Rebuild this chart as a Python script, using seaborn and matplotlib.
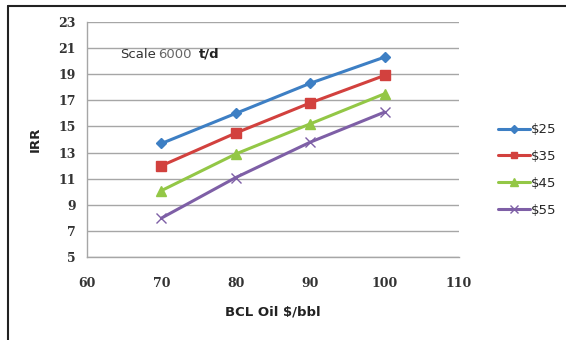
import numpy as np
import pandas as pd
import matplotlib
matplotlib.use("Agg")
import matplotlib.pyplot as plt
from matplotlib.lines import Line2D
import seaborn as sns

oil_price = [70, 80, 90, 100]
irr_25 = [13.7, 16.0, 18.3, 20.3]
irr_35 = [12.0, 14.5, 16.8, 18.9]
irr_45 = [10.1, 12.9, 15.2, 17.5]
irr_55 = [8.0, 11.1, 13.8, 16.1]
series_names = ["$25", "$35", "$45", "$55"]

rows = []
for name, vals in zip(series_names, [irr_25, irr_35, irr_45, irr_55]):
    for x, y in zip(oil_price, vals):
        rows.append({"oil": x, "irr": y, "series": name})
df = pd.DataFrame(rows)

sns.set_style("white")
plt.rcParams["font.family"] = ["DejaVu Sans"]

colors = {"$25": "#3D7FC4", "$35": "#D2413E", "$45": "#93C746", "$55": "#7E5FA6"}
markers = {"$25": "D", "$35": "s", "$45": "^", "$55": "x"}
msizes = {"$25": 5.5, "$35": 7, "$45": 7.5, "$55": 7.5}

fig = plt.figure(figsize=(5.66, 3.40), dpi=100)
ax = fig.add_axes([0.1537, 0.243, 0.811 - 0.1537, 0.936 - 0.243])

for name in series_names:
    sub = df[df["series"] == name]
    sns.lineplot(data=sub, x="oil", y="irr", ax=ax, color=colors[name],
                 marker=markers[name], markersize=msizes[name], linewidth=2.2,
                 markeredgecolor=colors[name], markeredgewidth=1.0,
                 label=name)

ax.set_xlim(60, 110)
ax.set_ylim(5, 23)
ax.set_xticks(np.arange(60, 111, 10))
ax.set_yticks(np.arange(5, 24, 2))
ax.yaxis.grid(True, color="#A6A6A6", linewidth=1.0)
ax.xaxis.grid(False)
ax.set_axisbelow(True)

for side in ["top", "right"]:
    ax.spines[side].set_visible(False)
for side in ["left", "bottom"]:
    ax.spines[side].set_color("#A6A6A6")
    ax.spines[side].set_linewidth(1.0)
ax.tick_params(axis="x", length=4, color="#A6A6A6", direction="out", pad=10)
ax.tick_params(axis="y", length=4, color="#A6A6A6", direction="out", pad=4)
for lab in ax.get_xticklabels() + ax.get_yticklabels():
    lab.set_fontfamily("DejaVu Serif")
    lab.set_fontweight("bold")
    lab.set_fontsize(9)
    lab.set_color("#333333")

ax.set_xlabel("BCL Oil $/bbl", fontsize=9.5, fontweight="bold", color="#222222", labelpad=11)
ax.set_ylabel("IRR", fontsize=9.5, fontweight="bold", color="#222222", labelpad=12)

ax.text(64.5, 20.5, "Scale", fontsize=9.5, color="#333333", va="center")
ax.text(69.6, 20.5, "6000", fontsize=9.5, color="#666666", va="center")
ax.text(75.0, 20.5, "t/d", fontsize=9.5, color="#222222", fontweight="bold", va="center")

leg = ax.legend(loc="center left", bbox_to_anchor=(486 / 566, 1 - 170 / 340),
                bbox_transform=fig.transFigure, frameon=False, markerscale=0.7,
                fontsize=9.5, handlelength=2.4, handletextpad=0.1, labelspacing=1.05)

# figure frame lines (top and left)
fig.add_artist(Line2D([8 / 566, 1], [1 - 6 / 340, 1 - 6 / 340], color="#222222", linewidth=1.5,
                      transform=fig.transFigure))
fig.add_artist(Line2D([8 / 566, 8 / 566], [0, 1 - 6 / 340], color="#222222", linewidth=1.5,
                      transform=fig.transFigure))

fig.savefig("out.png", dpi=100)
